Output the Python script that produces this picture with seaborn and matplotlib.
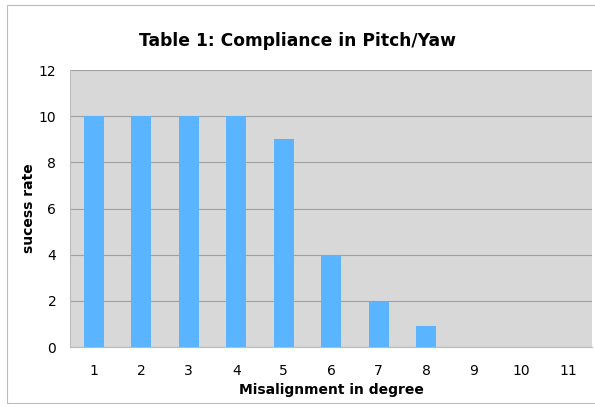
import matplotlib
matplotlib.use("Agg")
import matplotlib.pyplot as plt
import seaborn as sns
import pandas as pd
from matplotlib.patches import Rectangle

# 数据
degrees = ["1", "2", "3", "4", "5", "6", "7", "8", "9", "10", "11"]
success = [10, 10, 10, 10, 9, 4, 1.95, 0.9, 0, 0, 0]

df = pd.DataFrame({"degree": degrees, "success": success})

sns.set_style("white")
plt.rcParams["font.family"] = ["DejaVu Sans"]
plt.rcParams["text.color"] = "black"
plt.rcParams["axes.labelcolor"] = "black"
plt.rcParams["xtick.color"] = "black"
plt.rcParams["ytick.color"] = "black"

fig = plt.figure(figsize=(5.95, 4.07), dpi=100)
ax = fig.add_axes([0.118, 0.147, 0.877, 0.681])

sns.barplot(data=df, x="degree", y="success", color="#5AB4FF", width=0.42,
            saturation=1, linewidth=0, ax=ax, zorder=3)

ax.set_facecolor("#D8D8D8")
ax.set_ylim(0, 12)
ax.set_xlim(-0.5, 10.5)
ax.set_yticks(range(0, 13, 2))
ax.yaxis.grid(True, color="#A0A0A0", linewidth=0.8, zorder=0)
for s in ["top", "right"]:
    ax.spines[s].set_visible(False)
ax.spines["left"].set_color("#BBBBBB")
ax.spines["bottom"].set_color("#BBBBBB")

# 类别间的小刻度
ax.set_xticks([i + 0.5 for i in range(-1, 11)], minor=True)
ax.tick_params(axis="x", which="minor", length=4, color="#BBBBBB", direction="out")
ax.tick_params(axis="x", which="major", length=0, labelsize=10, pad=12)
ax.tick_params(axis="y", length=4, color="#BBBBBB", labelsize=10, pad=6)

ax.set_xlabel("Misalignment in degree", fontsize=10, fontweight="bold", labelpad=4)
ax.set_ylabel("sucess rate", fontsize=10, fontweight="bold", labelpad=2)
fig.text(0.5, 0.9, "Table 1: Compliance in Pitch/Yaw", ha="center", va="center",
         fontsize=12.3, fontweight="bold")

# 外框
fig.patches.append(Rectangle((0.012, 0.01), 1.0, 0.978, transform=fig.transFigure,
                             fill=False, edgecolor="#BBBBBB", linewidth=0.8))

fig.savefig("out.png", dpi=100)
plt.close(fig)
